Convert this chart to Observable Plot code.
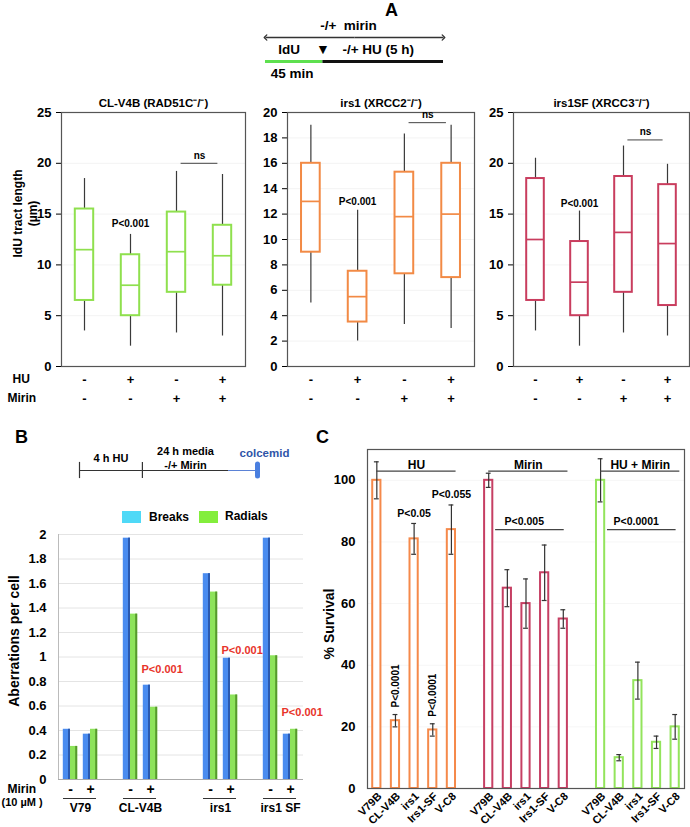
<!DOCTYPE html>
<html><head><meta charset="utf-8">
<script src="https://cdn.jsdelivr.net/npm/d3@7"></script>
<script src="https://cdn.jsdelivr.net/npm/@observablehq/plot@0.6"></script>
<style>
body{margin:0;background:#fff;}
#fig{position:relative;width:690px;height:827px;overflow:hidden;font-family:"Liberation Sans",Arial,sans-serif;font-weight:bold;color:#000;}
.pos{position:absolute;}
.pos svg{overflow:visible;display:block;}
.letter{position:absolute;font-size:18px;font-weight:bold;line-height:18px;}
.sw{position:absolute;}
.lg{position:absolute;font-size:12px;line-height:14px;}
</style></head><body><div id="fig"></div>
<script>
// ---------------- DATA ----------------
// Panel A schematic
const schemAStages = ["IdU", "-/+ HU (5 h)"];
const schemALengths = [1, 2.1];
const schemADurations = ["45 min", ""];
const schemASpanLabel = "-/+  mirin";
// Panel A boxes
const huSigns = ["-", "+", "-", "+"];
const mirinSigns = ["-", "-", "+", "+"];
const boxTitles = ["CL-V4B (RAD51C\u207B/\u207B)", "irs1 (XRCC2\u207B/\u207B)", "irs1SF (XRCC3\u207B/\u207B)"];
// [lower whisker, Q1, median, Q3, upper whisker]
const clV4bBoxes = [[3.5, 6.5, 11.5, 15.5, 18.5], [2, 5, 8, 11, 13], [3.3, 7.3, 11.3, 15.2, 19.2], [3, 8, 10.9, 13.9, 18.9]];
const irs1Boxes = [[5, 9, 13, 16, 19], [2, 3.5, 5.5, 7.5, 12.3], [3.3, 7.3, 11.8, 15.3, 18.3], [3, 7, 12, 16, 19]];
const irs1sfBoxes = [[3.5, 6.5, 12.5, 18.5, 20.5], [2, 5, 8.3, 12.3, 15.3], [3.3, 7.3, 13.2, 18.7, 21.7], [3, 6, 12.1, 17.9, 19.9]];
const yTicksA = [[0, 5, 10, 15, 20, 25], [0, 2, 4, 6, 8, 10, 12, 14, 16, 18, 20], [0, 5, 10, 15, 20, 25]];
const yMaxA = [25, 20, 25];
const pLabelA = "P<0.001";
const pLabelYA = [14, 13, 16];
const nsYA = [20, 19.2, 22.3];
// Panel B schematic
const schemBStages = ["4 h HU", "24 h media\n-/+ Mirin", "colcemid"];
const schemBLengths = [1, 1.37, 0.46];
// Panel B bars
const cellLinesB = ["V79", "CL-V4B", "irs1", "irs1 SF"];
const mirinB = ["-", "+"];
const slotsB = ["V79 -", "V79 +", "gap1", "CL-V4B -", "CL-V4B +", "gap2", "gap3", "irs1 -", "irs1 +", "gap4", "irs1 SF -", "irs1 SF +"];
const breaksB = [[0.41, 0.37], [1.97, 0.77], [1.68, 0.99], [1.97, 0.37]];
const radialsB = [[0.27, 0.41], [1.35, 0.59], [1.53, 0.69], [1.01, 0.41]];
const yTicksB = [0, 0.2, 0.4, 0.6, 0.8, 1, 1.2, 1.4, 1.6, 1.8, 2];
const pCellsB = ["CL-V4B", "irs1", "irs1 SF"];
const pYB = [0.9, 1.05, 0.55];
const legendB = ["Breaks", "Radials"];
// Panel C
const cellLinesC = ["V79B", "CL-V4B", "irs1", "Irs1-SF", "V-C8"];
const treatmentsC = ["HU", "Mirin", "HU + Mirin"];
const survivalHU = [100, 22, 81, 19, 84];
const errHU = [6, 2, 5, 2, 8];
const survivalMirin = [100, 65, 60, 70, 55];
const errMirin = [2.3, 6, 8, 9, 3];
const survivalHUMirin = [100, 10, 35, 15, 20];
const errHUMirin = [7, 1, 6, 2, 4];
const yTicksC = [0, 20, 40, 60, 80, 100];
const compLabelsC = ["P<0.005", "P<0.0001"];   // for Mirin and HU + Mirin groups
const hUPLabels = [null, "P<0.0001", "P<0.05", "P<0.0001", "P<0.055"];

// ---------------- STYLES ----------------
const FONT = '"Liberation Sans", Arial, sans-serif';
const base = {fontFamily: FONT, fontSize: "13px", fontWeight: "bold", background: "transparent", overflow: "visible", color: "#000"};
const boxColorsA = ["#8fe04e", "#f28a45", "#c93d5e"];
const colorsC = ["#f5894a", "#c63f63", "#93e45c"];

const fig = document.getElementById("fig");
function place(node, left, top) {
  const d = document.createElement("div");
  d.className = "pos"; d.style.left = left + "px"; d.style.top = top + "px";
  d.appendChild(node); fig.appendChild(d);
}
function letter(t, l, tp) {
  const d = document.createElement("div"); d.className = "letter"; d.textContent = t;
  d.style.left = l + "px"; d.style.top = tp + "px"; fig.appendChild(d);
}
const cumsum = (a) => { let s = 0; return a.map(v => (s += v) - v); };

// ---------------- PANEL A: schematic ----------------
letter("A", 385, 1);
{
  const starts = cumsum(schemALengths);
  const total = schemALengths.reduce((a, b) => a + b, 0);
  const stages = schemAStages.map((s, i) => ({label: s, start: starts[i], end: starts[i] + schemALengths[i], dur: schemADurations[i]}));
  const stageColors = ["#5ee04f", "#111"];
  const marks = [
    Plot.text([schemASpanLabel], {x: () => total / 2, y: () => "mirin", dx: -6, fontSize: 13.5}),
    Plot.link([0], {x1: () => total / 2, x2: () => 0, y1: () => "arrow", y2: () => "arrow", stroke: "#333", strokeWidth: 1.3, markerEnd: "arrow"}),
    Plot.link([0], {x1: () => total / 2, x2: () => total, y1: () => "arrow", y2: () => "arrow", stroke: "#333", strokeWidth: 1.3, markerEnd: "arrow"}),
    ...stages.map((s, i) => Plot.ruleY([s], {x1: "start", x2: "end", y: () => "bar", stroke: stageColors[i], strokeWidth: 3})),
    Plot.text(stages, {x: d => (d.start + d.end) / 2, y: () => "label", text: "label", dx: -5, fontSize: 13.5}),
    Plot.text([stages[1]], {x: "start", y: () => "label", text: () => "\u25BC", fontSize: 14}),
    Plot.text(stages.filter(d => d.dur), {x: d => (d.start + d.end) / 2, y: () => "dur", text: "dur", dx: -2, fontSize: 13.5})
  ];
  place(Plot.plot({
    width: 690, height: 85, marginLeft: 265, marginRight: 247, marginTop: 24, marginBottom: 12,
    style: base,
    x: {domain: [0, total], axis: null},
    y: {type: "point", domain: ["mirin", "arrow", "label", "bar", "dur"], padding: 0, axis: null},
    marks
  }), 0, 0);
}

// ---------------- PANEL A: box plots ----------------
function boxPanel(stats, k, geom) {
  const rows = stats.map((s, i) => ({x: i + 1, lo: s[0], q1: s[1], med: s[2], q3: s[3], hi: s[4], hu: huSigns[i], mirin: mirinSigns[i]}));
  const color = boxColorsA[k];
  const hw = 0.2;
  const marks = [
    Plot.ruleY(yTicksA[k].slice(1), {stroke: "#000", strokeOpacity: 0.05}),
    Plot.ruleX(rows, {x: "x", y1: "lo", y2: "q1", stroke: "#3a3a3a", strokeWidth: 1.2}),
    Plot.ruleX(rows, {x: "x", y1: "q3", y2: "hi", stroke: "#3a3a3a", strokeWidth: 1.2}),
    Plot.rect(rows, {x1: d => d.x - hw, x2: d => d.x + hw, y1: "q1", y2: "q3", fill: "white", stroke: color, strokeWidth: 2}),
    Plot.ruleY(rows, {x1: d => d.x - hw, x2: d => d.x + hw, y: "med", stroke: color, strokeWidth: 1.7}),
    Plot.frame({stroke: "#555", strokeWidth: 1.2}),
    Plot.text([boxTitles[k]], {frameAnchor: "top", lineAnchor: "middle", dy: -9, fontSize: 11.5}),
    Plot.text([pLabelA], {x: () => 2, y: () => pLabelYA[k], fontSize: 10}),
    Plot.ruleY([nsYA[k]], {x1: 3.1, x2: 3.9, stroke: "#444", strokeWidth: 1}),
    Plot.text(["ns"], {x: () => 3.5, y: () => nsYA[k], dy: -8, fontSize: 10}),
    Plot.text(rows, {x: "x", text: "hu", frameAnchor: "bottom", lineAnchor: "middle", dy: 13, fontSize: 13}),
    Plot.text(rows, {x: "x", text: "mirin", frameAnchor: "bottom", lineAnchor: "middle", dy: 32, fontSize: 13})
  ];
  if (k === 0) {
    marks.push(
      Plot.text(["HU"], {frameAnchor: "bottom-left", textAnchor: "start", lineAnchor: "middle", dx: -49, dy: 13, fontSize: 12}),
      Plot.text(["Mirin"], {frameAnchor: "bottom-left", textAnchor: "start", lineAnchor: "middle", dx: -54, dy: 32, fontSize: 12}),
      Plot.text(["IdU tract length\n(\u00B5m)"], {frameAnchor: "left", textAnchor: "middle", lineAnchor: "middle", rotate: -90, dx: -37, dy: -26, fontSize: 12, lineHeight: 1.25})
    );
  }
  return Plot.plot({
    width: geom.width, height: 330, marginLeft: geom.ml, marginRight: geom.mr, marginTop: 27, marginBottom: 49,
    style: base,
    x: {domain: [0.5, 4.5], axis: null},
    y: {domain: [0, yMaxA[k]], ticks: yTicksA[k], tickSize: 5, tickPadding: 5, label: null},
    marks
  });
}
place(boxPanel(clV4bBoxes, 0, {width: 250, ml: 61, mr: 5}), 0, 85);
place(boxPanel(irs1Boxes, 1, {width: 230, ml: 37, mr: 6}), 250, 85);
place(boxPanel(irs1sfBoxes, 2, {width: 214, ml: 37, mr: 1}), 476, 85);

// ---------------- PANEL B: schematic ----------------
letter("B", 15, 428);
{
  const starts = cumsum(schemBLengths);
  const total = schemBLengths.reduce((a, b) => a + b, 0);
  const st = schemBStages.map((s, i) => ({label: s, start: starts[i], end: starts[i] + schemBLengths[i]}));
  const marks = [
    Plot.ruleY(st.slice(0, 2), {x1: "start", x2: "end", y: 0, stroke: "#333", strokeWidth: 1.2}),
    Plot.ruleY(st.slice(2), {x1: "start", x2: "end", y: 0, stroke: "#5b82d6", strokeWidth: 1}),
    Plot.ruleX(st.slice(0, 2), {x: "start", y1: -0.27, y2: 0.27, stroke: "#333", strokeWidth: 1.2}),
    Plot.ruleX(st.slice(2), {x: "end", y1: -0.2, y2: 0.2, stroke: "#4a7fe0", strokeWidth: 5, strokeLinecap: "round"}),
    Plot.text(st.slice(0, 2), {x: d => (d.start + d.end) / 2, y: 0, text: "label", dy: -13, fontSize: 11, lineHeight: 1.3}),
    Plot.text(st.slice(2), {x: "end", y: 0, text: "label", dx: 7, dy: -17, fontSize: 11.5, fill: "#2f55a8"})
  ];
  place(Plot.plot({
    width: 300, height: 40, marginLeft: 79, marginRight: 43, marginTop: 0, marginBottom: 10,
    style: base, x: {domain: [0, total], axis: null}, y: {domain: [0, 1], axis: null}, marks
  }), 0, 440);
}
// legend B
{
  const cols = ["#4fd9f7", "#83ee3c"];
  const sx = [122, 199], tx = [149, 225];
  legendB.forEach((l, i) => {
    const s = document.createElement("div"); s.className = "sw";
    s.style.cssText = `left:${sx[i]}px;top:511px;width:19px;height:12px;background:${cols[i]}`;
    fig.appendChild(s);
    const t = document.createElement("div"); t.className = "lg"; t.textContent = l;
    t.style.left = tx[i] + "px"; t.style.top = (510 - i) + "px"; fig.appendChild(t);
  });
}

// ---------------- PANEL B: bars ----------------
{
  const rows = cellLinesB.flatMap((c, ci) => mirinB.map((m, mi) => ({
    cell: c, mirin: m, pos: slotsB.indexOf(c + " " + m), breaks: breaksB[ci][mi], radials: radialsB[ci][mi]})));
  const cells = cellLinesB.map(c => ({cell: c, p0: slotsB.indexOf(c + " -"), p1: slotsB.indexOf(c + " +")}));
  const pv = pCellsB.map((c, i) => ({pos: slotsB.indexOf(c + " +"), y: pYB[i]}));
  const xDom = [-0.6, 11.65];
  const bw = 0.36;
  const marks = [
    Plot.ruleY(yTicksB.slice(1), {stroke: "#e4e4e4"}),
    Plot.ruleX([xDom[0]], {stroke: "#bbb"}),
    Plot.ruleY([0], {stroke: "#aaa"}),
    Plot.rect(rows, {x1: d => d.pos - bw, x2: d => d.pos, y1: 0, y2: "breaks", fill: "#4a8cf0"}),
    Plot.rect(rows, {x1: d => d.pos - 0.1, x2: d => d.pos, y1: 0, y2: "breaks", fill: "#2a59b0"}),
    Plot.rect(rows, {x1: d => d.pos, x2: d => d.pos + bw, y1: 0, y2: "radials", fill: "#8de35a"}),
    Plot.rect(rows, {x1: d => d.pos + bw - 0.1, x2: d => d.pos + bw, y1: 0, y2: "radials", fill: "#559a2c"}),
    Plot.text(pv, {x: d => d.pos - 0.45, y: "y", text: () => "P<0.001", textAnchor: "start", fill: "#e8332a", fontSize: 11}),
    Plot.text(rows, {x: "pos", text: "mirin", frameAnchor: "bottom", lineAnchor: "middle", dy: 10, fontSize: 14}),
    Plot.ruleY(cells, {x1: d => d.p0 - 0.35, x2: d => d.p1 + 0.3, y: 0, dy: 19, stroke: "#333", strokeWidth: 1}),
    Plot.text(cells, {x: d => (d.p0 + d.p1) / 2, text: "cell", frameAnchor: "bottom", lineAnchor: "middle", dy: 29, fontSize: 12}),
    Plot.text(["Mirin"], {frameAnchor: "bottom-left", textAnchor: "start", lineAnchor: "middle", dx: -51, dy: 10, fontSize: 12}),
    Plot.text(["(10 \u00B5M )"], {frameAnchor: "bottom-left", textAnchor: "start", lineAnchor: "middle", dx: -57, dy: 23, fontSize: 11}),
    Plot.text(["Aberrations per cell"], {frameAnchor: "left", textAnchor: "middle", lineAnchor: "middle", rotate: -90, dx: -44, dy: -16, fontSize: 14})
  ];
  place(Plot.plot({
    width: 345, height: 302, marginLeft: 58, marginRight: 42, marginTop: 9, marginBottom: 48,
    style: base,
    x: {domain: xDom, axis: null},
    y: {domain: [0, 2], ticks: yTicksB, tickSize: 0, tickPadding: 12, tickFormat: d => String(+d.toFixed(1)), label: null},
    marks
  }), 0, 525);
}

// ---------------- PANEL C ----------------
letter("C", 316, 428);
{
  const vals = [survivalHU, survivalMirin, survivalHUMirin];
  const errs = [errHU, errMirin, errHUMirin];
  const n = cellLinesC.length;
  const rows = treatmentsC.flatMap((t, g) => cellLinesC.map((c, i) => ({
    t, g, c, i, slot: g * (n + 1) + i, v: vals[g][i], lo: vals[g][i] - errs[g][i], hi: vals[g][i] + errs[g][i]})));
  const groups = treatmentsC.map((t, g) => ({t, a: g * (n + 1), b: g * (n + 1) + n - 1}));
  const comps = compLabelsC.map((l, k) => ({l, a: groups[k + 1].a + 1 - 0.63, b: groups[k + 1].b + 0.05}));
  const huP = rows.filter(d => d.g === 0 && hUPLabels[d.i]).map(d => ({...d, l: hUPLabels[d.i]}));
  const huPFlat = huP.filter(d => d.i % 2 === 0);
  const huPRot = huP.filter(d => d.i % 2 === 1);
  const hw = 0.22;
  const marks = [
    Plot.ruleY(yTicksC.slice(1), {stroke: "#000", strokeOpacity: 0.04}),
    ...treatmentsC.map((t, g) => Plot.rect(rows.filter(d => d.g === g), {x1: d => d.slot - hw, x2: d => d.slot + hw, y1: 0, y2: "v", fill: "white", stroke: colorsC[g], strokeWidth: 2})),
    Plot.ruleX(rows, {x: "slot", y1: "lo", y2: "hi", stroke: "#333", strokeWidth: 1.2}),
    Plot.ruleY(rows, {x1: d => d.slot - 0.13, x2: d => d.slot + 0.13, y: "hi", stroke: "#333", strokeWidth: 1.2}),
    Plot.ruleY(rows, {x1: d => d.slot - 0.13, x2: d => d.slot + 0.13, y: "lo", stroke: "#333", strokeWidth: 1.2}),
    Plot.frame({stroke: "#555", strokeWidth: 1.2}),
    Plot.ruleY(groups, {x1: "a", x2: d => d.b + 0.25, y: 103, stroke: "#444", strokeWidth: 1.2}),
    Plot.text(groups, {x: d => (d.a + d.b + 0.25) / 2, y: 103, dy: -6, text: "t", fontSize: 12}),
    Plot.ruleY(comps, {x1: "a", x2: "b", y: 84, stroke: "#444", strokeWidth: 1.2}),
    Plot.text(comps, {x: d => (d.a + d.b) / 2 - 0.3, y: 84, dy: -8, text: "l", fontSize: 10.5}),
    Plot.text(huPFlat, {x: "slot", y: "hi", dy: -10, text: "l", fontSize: 10.5}),
    Plot.text(huPRot, {x: "slot", y: "hi", dy: -7, text: "l", rotate: -90, textAnchor: "start", fontSize: 10}),
    Plot.text(rows, {x: "slot", text: "c", frameAnchor: "bottom", rotate: -45, textAnchor: "end", lineAnchor: "middle", dx: 3, dy: 6, fontSize: 11}),
    Plot.text(["% Survival"], {frameAnchor: "left", textAnchor: "middle", lineAnchor: "middle", rotate: -90, dx: -38, dy: 5, fontSize: 14})
  ];
  place(Plot.plot({
    width: 385, height: 402, marginLeft: 62, marginRight: 6, marginTop: 24, marginBottom: 39,
    style: base,
    x: {domain: [-0.5, 16.5], axis: null},
    y: {domain: [0, 110], ticks: yTicksC, tickSize: 0, tickPadding: 12, label: null},
    marks
  }), 305, 425);
}
</script></body></html>
